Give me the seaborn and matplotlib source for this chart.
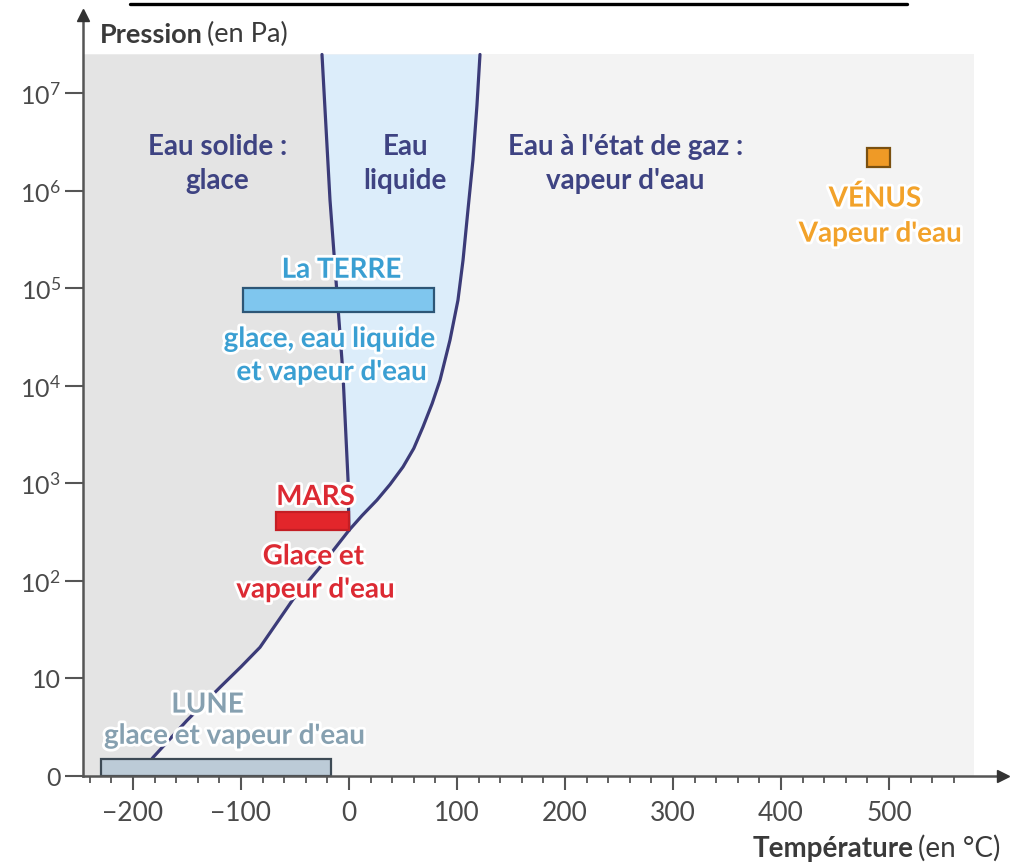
import numpy as np
import matplotlib
matplotlib.use("Agg")
import matplotlib.pyplot as plt
import matplotlib.patheffects as pe
from matplotlib.lines import Line2D
import seaborn as sns

# ---------------- data ----------------
# phase-boundary curves: temperature (°C) and log10 of pressure (Pa)
fusion_T = [0.0, -0.9, -5.6, -17.6, -25.0]
fusion_logP = [2.52, 3.04, 4.13, 5.91, 7.40]

vapor_T = [0.0, 12.0, 25.9, 38.0, 50.0, 60.0, 68.5, 77.0, 84.3, 93.5, 100.9, 105.6, 110.2, 114.8, 118.5, 121.3]
vapor_logP = [2.52, 2.67, 2.83, 2.99, 3.17, 3.36, 3.58, 3.82, 4.06, 4.47, 4.88, 5.29, 5.81, 6.32, 6.88, 7.40]

subl_T = [-194.0, -181.5, -150.0, -119.4, -100.0, -82.4, -51.9, -26.9, -12.0, 0.0]
subl_logP = [0.0, 0.19, 0.57, 0.91, 1.12, 1.32, 1.81, 2.14, 2.35, 2.52]

# planets: temperature range (°C) and pressure range (Pa)
planets = ["La TERRE", "MARS", "LUNE", "VÉNUS"]
planet_tmin = [-98, -68, -230, 480]
planet_tmax = [79, 0, -17, 501]
planet_pmin = [5.75e4, 331, 1.0, 1.78e6]
planet_pmax = [1.0e5, 513, 1.51, 2.75e6]
planet_fill = ["#7fc6ee", "#e3262b", "#bccbd7", "#ef9a26"]
planet_edge = ["#2d5676", "#c41e24", "#3d4a55", "#7a5010"]

x_ticks = [-200, -100, 0, 100, 200, 300, 400, 500]
x_tick_labels = ["\u2212200", "\u2212100", "0", "100", "200", "300", "400", "500"]
y_ticks = [1, 10, 1e2, 1e3, 1e4, 1e5, 1e6, 1e7]
y_tick_labels = ["0", "10", "$10^2$", "$10^3$", "$10^4$", "$10^5$", "$10^6$", "$10^7$"]

# ---------------- style ----------------
sns.set_theme(style="white")
plt.rcParams["font.family"] = ["Lato", "DejaVu Sans"]
plt.rcParams["mathtext.fontset"] = "custom"
plt.rcParams["mathtext.rm"] = "Lato"
plt.rcParams["mathtext.it"] = "Lato:italic"
plt.rcParams["mathtext.bf"] = "Lato:bold"
plt.rcParams["mathtext.default"] = "regular"

LINE = "#3b3b78"
LABEL = "#3e4382"
AXC = "#555555"
TICKC = "#4a4a4a"
FS = 20

fig = plt.figure(figsize=(10.18, 8.64), dpi=100)
ax = fig.add_axes([83 / 1018, 1 - 776 / 864, 920 / 1018, 761 / 864])
ax.set_facecolor("white")
ax.set_yscale("log")
XMIN, XMAX = -246.3, 605.6
ax.set_xlim(XMIN, XMAX)
ax.set_ylim(1, 10 ** 7.805)

TOP = 10 ** 7.40
P = lambda L: [10 ** v for v in L]

# background regions
ax.fill_between([XMIN, 579], 1, TOP, color="#f3f3f3", lw=0, zorder=0)
solid_x = [XMIN] + subl_T + fusion_T[1:] + [XMIN]
solid_y = [1] + P(subl_logP) + P(fusion_logP[1:]) + [TOP]
ax.fill(solid_x, solid_y, color="#e4e4e4", lw=0, zorder=0.5)
liq_x = fusion_T[::-1] + vapor_T[1:]
liq_y = P(fusion_logP[::-1]) + P(vapor_logP[1:])
ax.fill(liq_x, liq_y, color="#dcedfa", lw=0, zorder=0.5)

# boundary curves
for tx, ly in [(fusion_T, fusion_logP), (vapor_T, vapor_logP), (subl_T, subl_logP)]:
    sns.lineplot(x=tx, y=P(ly), ax=ax, color=LINE, lw=2.3, sort=False,
                 estimator=None, zorder=3)

# planet bars
for i in range(len(planets)):
    ax.bar((planet_tmin[i] + planet_tmax[i]) / 2,
           planet_pmax[i] - planet_pmin[i],
           bottom=planet_pmin[i],
           width=planet_tmax[i] - planet_tmin[i],
           color=planet_fill[i], edgecolor=planet_edge[i], lw=1.6, zorder=4)

# region labels
rl = dict(color=LABEL, fontsize=FS, fontweight="bold", ha="center", va="baseline", zorder=5)
ax.text(-122, 10 ** 6.37, "Eau solide :", **rl)
ax.text(-122, 10 ** 6.02, "glace", **rl)
ax.text(52, 10 ** 6.37, "Eau", **rl)
ax.text(52, 10 ** 6.02, "liquide", **rl)
ax.text(256, 10 ** 6.37, "Eau à l'état de gaz :", **rl)
ax.text(256, 10 ** 6.02, "vapeur d'eau", **rl)

halo = [pe.withStroke(linewidth=4, foreground="white")]
def plabel(x, L, s, c):
    ax.text(x, 10 ** L, s, color=c, fontsize=FS, fontweight="bold", ha="center",
            va="baseline", zorder=6, path_effects=halo)

plabel(487, 5.84, "VÉNUS", "#f2a22a")
plabel(492, 5.48, "Vapeur d'eau", "#f2a22a")
plabel(-7, 5.11, "La TERRE", "#3a9fd2")
plabel(-18, 4.40, "glace, eau liquide", "#3a9fd2")
plabel(-16, 4.06, "et vapeur d'eau", "#3a9fd2")
plabel(-31, 2.78, "MARS", "#dc2a33")
plabel(-33, 2.17, "Glace et", "#dc2a33")
plabel(-31, 1.83, "vapeur d'eau", "#dc2a33")
plabel(-131, 0.65, "LUNE", "#86a0b0")
plabel(-106, 0.33, "glace et vapeur d'eau", "#86a0b0")

# axes styling
for s in ["top", "right"]:
    ax.spines[s].set_visible(False)
for s in ["left", "bottom"]:
    ax.spines[s].set_color(AXC)
    ax.spines[s].set_linewidth(1.8)
    ax.spines[s].set_zorder(7)
ax.plot(1, 0, ">", color="#333333", ms=9, transform=ax.transAxes, clip_on=False, zorder=8)
ax.plot(0, 1, "^", color="#333333", ms=9, transform=ax.transAxes, clip_on=False, zorder=8)

ax.set_xticks(x_ticks)
ax.set_xticklabels(x_tick_labels)
ax.set_xticks([v for v in range(-240, 580, 20) if v % 100 != 0], minor=True)
ax.set_yticks(y_ticks)
ax.set_yticklabels(y_tick_labels)
ax.yaxis.set_minor_locator(matplotlib.ticker.NullLocator())
ax.tick_params(axis="x", which="major", direction="out", length=10, width=1.5,
               color=AXC, labelcolor=TICKC, labelsize=19, pad=8, bottom=True)
ax.tick_params(axis="x", which="minor", direction="out", length=5, width=1.3,
               color=AXC, bottom=True)
ax.tick_params(axis="y", which="major", direction="out", length=13, width=1.5,
               color=AXC, labelcolor=TICKC, labelsize=18, pad=3, left=True)
ax.grid(False)

# axis titles
t1 = fig.text(100 / 1018, 1 - 43 / 864, "Pression", fontsize=19.5, fontweight="bold",
              color="#3a3a3a", ha="left", va="baseline")
ax.annotate("(en Pa)", xy=(1, 0), xycoords=t1, xytext=(3, 0), textcoords="offset points",
            fontsize=19.5, color="#3a3a3a", ha="left", va="bottom", annotation_clip=False)
t2 = fig.text(1000 / 1018, 1 - 857 / 864, "(en °C)", fontsize=20, color="#3a3a3a",
              ha="right", va="baseline")
ax.annotate("Température", xy=(0, 0), xycoords=t2, xytext=(-3, 0), textcoords="offset points",
            fontsize=20, fontweight="bold", color="#3a3a3a", ha="right", va="bottom",
            annotation_clip=False)

# remnant rule of the cropped title above the chart
fig.add_artist(Line2D([130 / 1018, 907 / 1018], [1 - 4 / 864, 1 - 4 / 864],
                      color="black", lw=2.4))

fig.savefig("out.png", dpi=100)
